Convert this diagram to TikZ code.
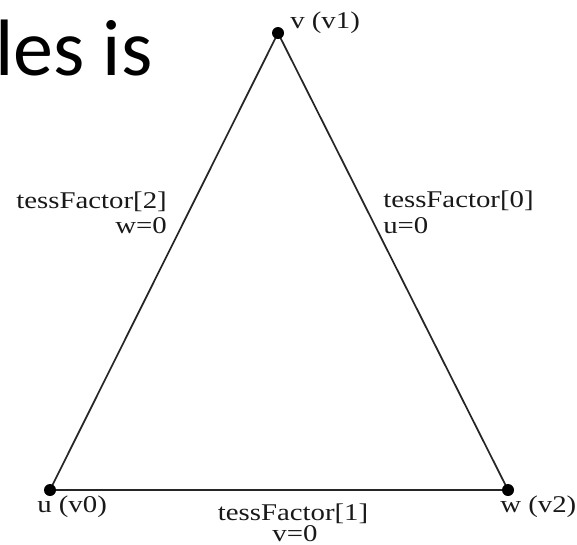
\documentclass[tikz,border=0pt]{standalone}
\usepackage{fontspec}
\newfontfamily\labfont[FakeStretch=1.2]{Liberation Serif}
\newfontfamily\bigfont{Carlito}
\begin{document}
\begin{tikzpicture}[x=0.75pt,y=-0.75pt,
  lab/.style={font=\labfont\fontsize{18}{20}\selectfont, text=black!90, inner sep=0},
  dot/.style={circle, fill=black, inner sep=0, minimum size=9pt},
  edge/.style={line width=1.3pt, draw=black!85}]
\useasboundingbox (0,0) rectangle (577,544);
\node[anchor=base west, inner sep=0, font=\bigfont\fontsize{60}{60}\selectfont] (title) at (-5,75) {les is};
\coordinate (v) at (278,33);
\coordinate (u) at (50,490);
\coordinate (w) at (508,490);
\draw[edge] (v) -- (w) -- (u) -- cycle;
\node[dot] (dv) at (v) {};
\node[dot] (du) at (u) {};
\node[dot] (dw) at (w) {};
\node[lab, anchor=base west] (lv) at (290,28) {v (v1)};
\node[lab, anchor=base west] (lu) at (37,512) {u (v0)};
\node[lab, anchor=base west] (lw) at (500,512) {w (v2)};
\node[lab, anchor=base east] (t2) at (167,208) {tessFactor[2]};
\node[lab, anchor=base east] (e2) at (167,233) {w=0};
\node[lab, anchor=base west] (t0) at (383,207) {tessFactor[0]};
\node[lab, anchor=base west] (e0) at (383,233) {u=0};
\node[lab, anchor=base] (t1) at (293,520) {tessFactor[1]};
\node[lab, anchor=base] (e1) at (295,541) {v=0};
\end{tikzpicture}
\end{document}
